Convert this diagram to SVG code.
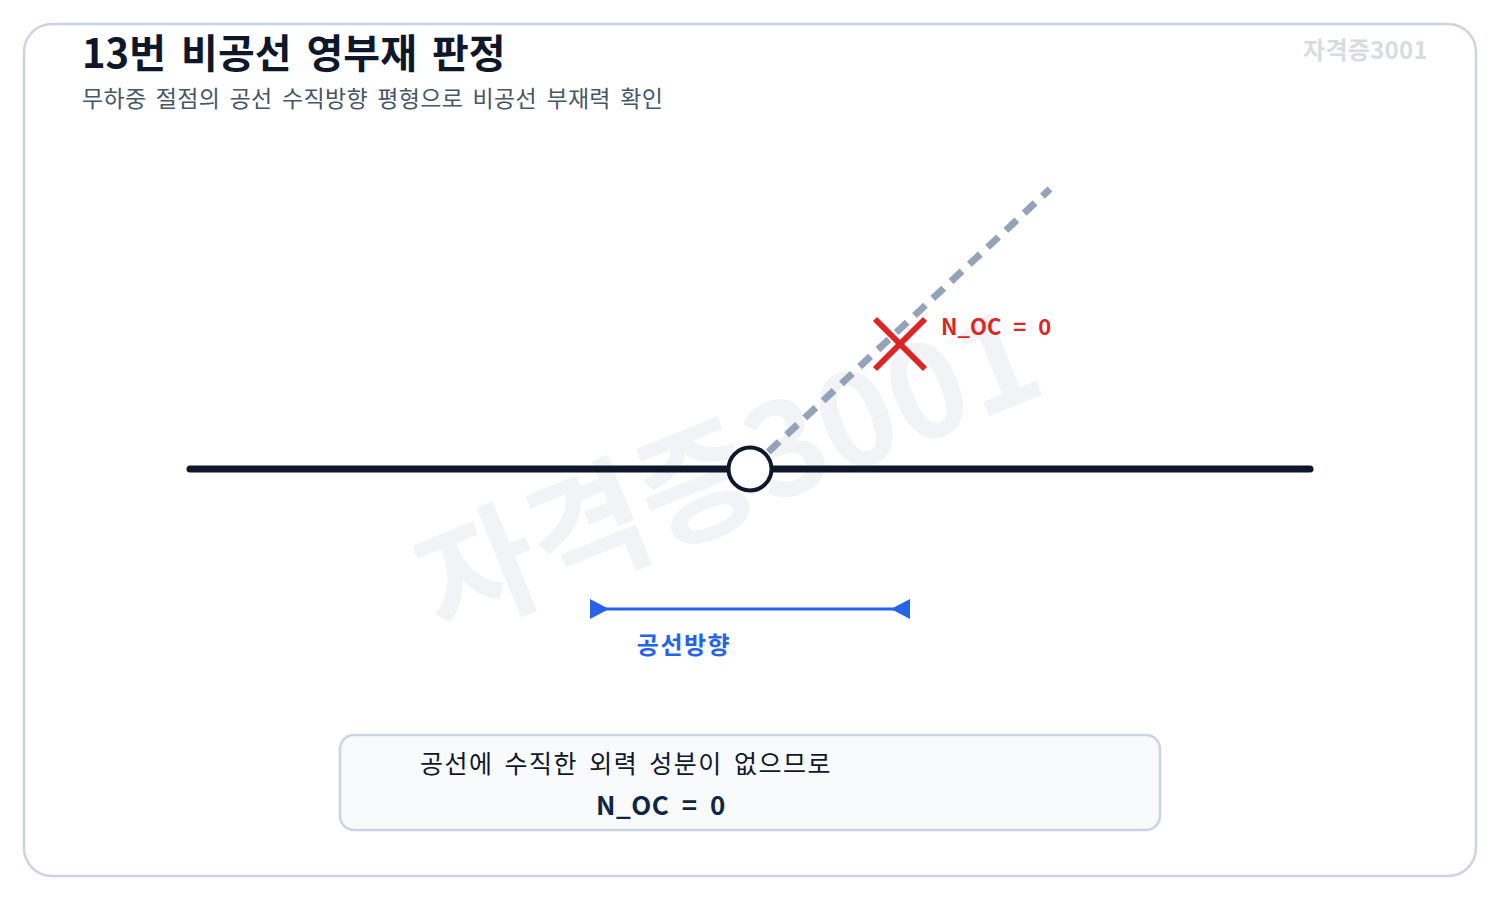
<svg xmlns="http://www.w3.org/2000/svg" width="1500" height="900" viewBox="0 0 1500 900">
  <style>
    .kr { font-family: "Noto Sans CJK KR", "Noto Sans", sans-serif; }
    .title { font-size: 40px; font-weight: 700; fill: #0f172a; word-spacing: 6px; }
    .sub { font-size: 23px; fill: #475569; word-spacing: 4px; letter-spacing: 0.3px; }
    .wm { font-size: 24px; font-weight: 700; fill: #d7dce3; letter-spacing: 0.3px; }
    .bigwm { font-size: 128px; font-weight: 700; fill: #f1f3f6; }
    .red { font-size: 22px; font-weight: 700; fill: #dc2626; word-spacing: 7px; }
    .blue { font-size: 24px; font-weight: 700; fill: #2563eb; letter-spacing: 1.5px; }
    .note { font-size: 25px; fill: #0f172a; letter-spacing: 1.5px; word-spacing: 4px; }
    .noteb { font-size: 26px; font-weight: 700; fill: #0f2744; letter-spacing: 0.5px; word-spacing: 6px; }
  </style>
  <rect x="24" y="24" width="1452" height="852" rx="28" fill="#ffffff" stroke="#cbd5e1" stroke-width="2.5"/>
  <text class="kr bigwm" x="728" y="518" text-anchor="middle" transform="rotate(-22 728 471)">자격증3001</text>
  <g id="header">
    <text class="kr title" x="82" y="68">13번 비공선 영부재 판정</text>
    <text class="kr sub" x="82" y="107">무하중 절점의 공선 수직방향 평형으로 비공선 부재력 확인</text>
    <text class="kr wm" x="1428" y="59" text-anchor="end">자격증3001</text>
  </g>
  <g id="connectors">
    <line x1="190" y1="469" x2="1310" y2="469" stroke="#0f172a" stroke-width="7" stroke-linecap="round"/>
    <line x1="750" y1="469" x2="1050" y2="189" stroke="#94a3b8" stroke-width="7" stroke-dasharray="15 10"/>
    <line x1="600" y1="609" x2="900" y2="609" stroke="#2563eb" stroke-width="3"/>
    <polygon points="590,599 609,609 590,619" fill="#2563eb"/>
    <polygon points="910,599 891,609 910,619" fill="#2563eb"/>
  </g>
  <g id="node-O">
    <circle cx="750" cy="469" r="21.5" fill="#ffffff" stroke="#0f172a" stroke-width="4"/>
  </g>
  <g id="zero-marker">
    <line x1="875" y1="319" x2="925" y2="369" stroke="#dc2626" stroke-width="6"/>
    <line x1="925" y1="319" x2="875" y2="369" stroke="#dc2626" stroke-width="6"/>
    <text class="kr red" x="941" y="335">N_OC = 0</text>
  </g>
  <g id="direction-label">
    <text class="kr blue" x="684" y="654" text-anchor="middle">공선방향</text>
  </g>
  <g id="note">
    <rect x="340" y="735" width="820" height="95" rx="14" fill="#f8fafc" stroke="#cbd5e1" stroke-width="2.5"/>
    <text class="kr note" x="420" y="773">공선에 수직한 외력 성분이 없으므로</text>
    <text class="kr noteb" x="596" y="815">N_OC = 0</text>
  </g>
</svg>
